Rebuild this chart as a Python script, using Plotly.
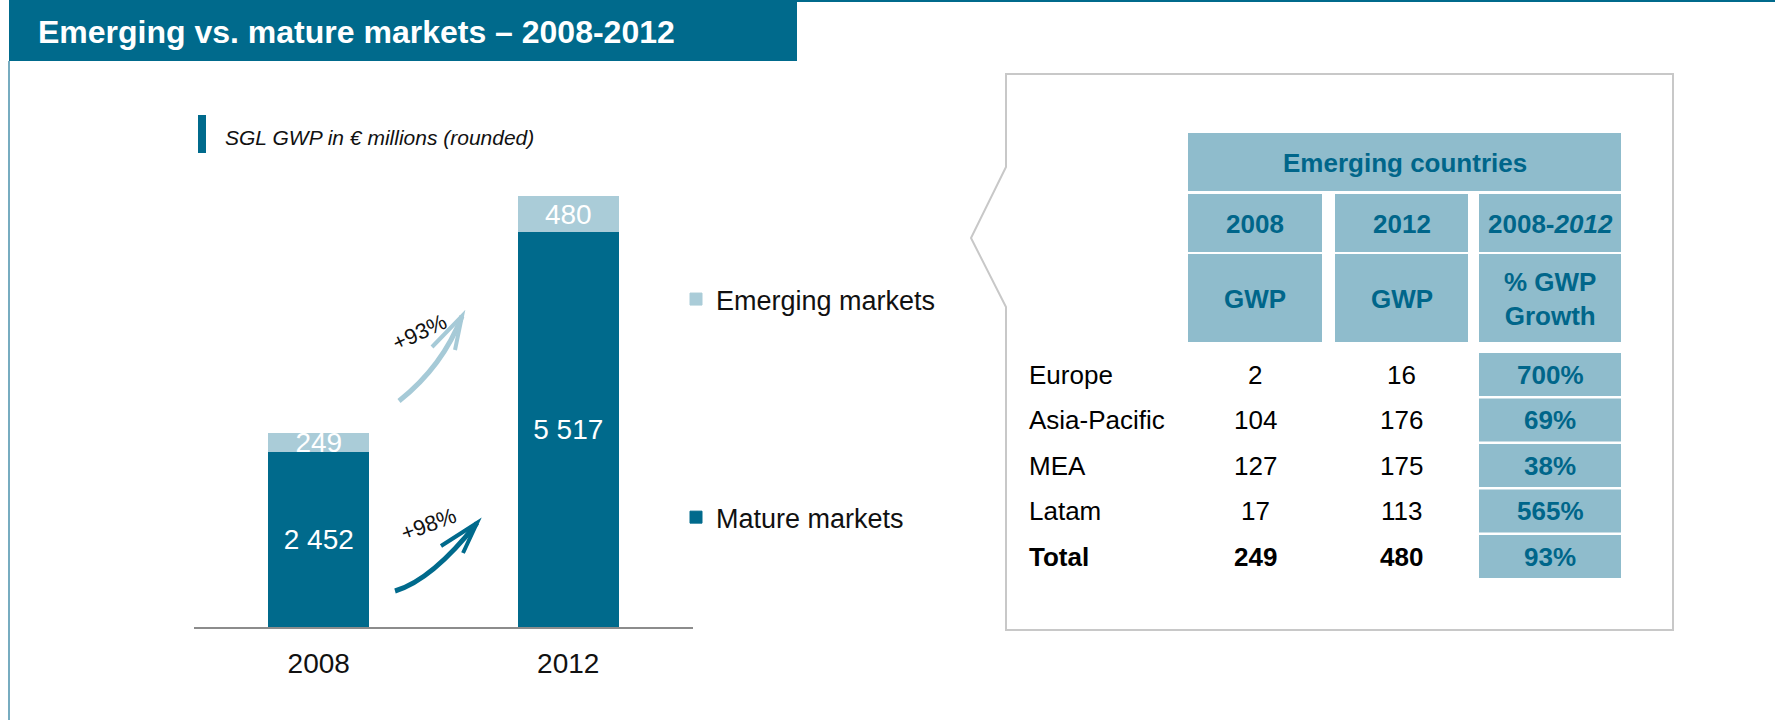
import plotly.graph_objects as go

W, H = 1775, 720

# ---------------- data ----------------
title_text = "Emerging vs. mature markets – 2008-2012"
subtitle_text = "SGL GWP in € millions (rounded)"

years = ["2008", "2012"]
mature = [2452, 5517]
emerging = [249, 480]
mature_name = "Mature markets"
emerging_name = "Emerging markets"
mature_growth_label = "+98%"
emerging_growth_label = "+93%"

table_group_header = "Emerging countries"
table_col_headers = ["2008", "2012", "2008-<i>2012</i>"]
table_sub_headers = ["GWP", "GWP", "% GWP<br>Growth"]
regions = ["Europe", "Asia-Pacific", "MEA", "Latam", "Total"]
gwp_2008 = [2, 104, 127, 17, 249]
gwp_2012 = [16, 176, 175, 113, 480]
gwp_growth = ["700%", "69%", "38%", "565%", "93%"]

# ---------------- style ----------------
DARK = "#006A8C"
LIGHT = "#AACCD8"
CELL = "#8FBCCC"
HEAD_TXT = "#00668A"
BORDER = "#C8C8C8"
AXIS = "#8C8C8C"
FONT = "Liberation Sans, Arial, sans-serif"


def px(x):
    return x / W


def py(y):
    return 1 - y / H


def P(x, y):
    return f"{px(x):.5f},{py(y):.5f}"


def fmt(v):
    return f"{v:,}".replace(",", " ")


fig = go.Figure()
fig.add_bar(
    x=years, y=mature, name=mature_name, legendgroup="m", legendrank=2,
    marker=dict(color=DARK, line=dict(color=DARK, width=1)),
    text=[fmt(v) for v in mature], textposition="inside", insidetextanchor="middle",
    textangle=0, constraintext="none", textfont=dict(size=28, color="white", family=FONT),
    width=0.4, hoverinfo="skip",
)
fig.add_bar(
    x=years, y=emerging, name=emerging_name, legendgroup="e", legendrank=1,
    marker=dict(color=LIGHT, line=dict(color=LIGHT, width=1)),
    text=[fmt(v) for v in emerging], textposition="inside", insidetextanchor="middle",
    textangle=0, constraintext="none", textfont=dict(size=28, color="white", family=FONT),
    width=0.4, hoverinfo="skip",
)

shapes = []
annotations = []

# header bar & frame lines
shapes.append(dict(type="rect", xref="paper", yref="paper", x0=px(9), x1=px(797), y0=py(0), y1=py(61),
                   fillcolor=DARK, line=dict(width=0), layer="below"))
shapes.append(dict(type="line", xref="paper", yref="paper", x0=px(797), x1=px(1775), y0=py(1), y1=py(1),
                   line=dict(color=DARK, width=2)))
shapes.append(dict(type="line", xref="paper", yref="paper", x0=px(9), x1=px(9), y0=py(61), y1=py(720),
                   line=dict(color="#4A90AB", width=1.5)))
annotations.append(dict(text=f"<b>{title_text}</b>", xref="paper", yref="paper", x=px(36), y=py(32),
                        xanchor="left", yanchor="middle", showarrow=False,
                        font=dict(size=32, color="white", family=FONT)))

# subtitle
shapes.append(dict(type="rect", xref="paper", yref="paper", x0=px(198), x1=px(206), y0=py(115), y1=py(153),
                   fillcolor=DARK, line=dict(width=0)))
annotations.append(dict(text=f"<i>{subtitle_text}</i>", xref="paper", yref="paper", x=px(223), y=py(137),
                        xanchor="left", yanchor="middle", showarrow=False,
                        font=dict(size=21, color="#111111", family=FONT)))

# growth arrows
def arrow(p0, c, p1, b1, b2, color):
    shapes.append(dict(type="path", xref="paper", yref="paper",
                       path=f"M{P(*p0)} Q{P(*c)} {P(*p1)}", line=dict(color=color, width=5)))
    shapes.append(dict(type="path", xref="paper", yref="paper",
                       path=f"M{P(*b1)} L{P(*p1)} L{P(*b2)}", line=dict(color=color, width=4)))

arrow((399, 401), (443, 366), (462, 316), (432, 347), (455, 350), "#A6CAD7")
arrow((395, 591), (432, 580), (477, 523), (441, 546), (463, 553), DARK)
annotations.append(dict(text=emerging_growth_label, xref="paper", yref="paper", x=px(419), y=py(332),
                        xanchor="center", yanchor="middle",
                        textangle=-25, showarrow=False, font=dict(size=22, color="#111111", family=FONT)))
annotations.append(dict(text=mature_growth_label, xref="paper", yref="paper", x=px(428), y=py(524),
                        xanchor="center", yanchor="middle",
                        textangle=-20, showarrow=False, font=dict(size=22, color="#111111", family=FONT)))

# callout box
box_path = (f"M{P(1006, 74)} L{P(1673, 74)} L{P(1673, 630)} L{P(1006, 630)} "
            f"L{P(1006, 307)} L{P(971, 238)} L{P(1006, 167)} Z")
shapes.append(dict(type="path", xref="paper", yref="paper", path=box_path,
                   line=dict(color=BORDER, width=2), fillcolor="rgba(0,0,0,0)"))

# table header cells
def cell(x0, y0, x1, y1):
    shapes.append(dict(type="rect", xref="paper", yref="paper", x0=px(x0), x1=px(x1), y0=py(y0), y1=py(y1),
                       fillcolor=CELL, line=dict(width=0)))

def txt(s, x, y, size=26, color="#000000", bold=False, anchor="center"):
    annotations.append(dict(text=f"<b>{s}</b>" if bold else s, xref="paper", yref="paper",
                            x=px(x), y=py(y), xanchor=anchor, yanchor="middle", showarrow=False,
                            align="center", font=dict(size=size, color=color, family=FONT)))

cols = [(1188, 1322), (1335, 1468), (1479, 1621)]
cell(1188, 133, 1621, 191)
txt(table_group_header, (1188 + 1621) / 2, 163, color=HEAD_TXT, bold=True)
for (x0, x1), h1, h2 in zip(cols, table_col_headers, table_sub_headers):
    cell(x0, 194, x1, 252)
    cell(x0, 254, x1, 342)
    txt(h1, (x0 + x1) / 2, 224, color=HEAD_TXT, bold=True)
    txt(h2, (x0 + x1) / 2, 299, color=HEAD_TXT, bold=True)

row_top = 353
row_pitch = 45.5
row_h = 43
for i, (reg, a, b, g) in enumerate(zip(regions, gwp_2008, gwp_2012, gwp_growth)):
    y0 = row_top + i * row_pitch
    yc = y0 + row_h / 2
    bold = reg == "Total"
    cell(cols[2][0], y0, cols[2][1], y0 + row_h)
    txt(reg, 1027, yc, bold=bold, anchor="left")
    txt(str(a), sum(cols[0]) / 2, yc, bold=bold)
    txt(str(b), sum(cols[1]) / 2, yc, bold=bold)
    txt(g, sum(cols[2]) / 2, yc, color=HEAD_TXT, bold=True)

fig.update_layout(
    width=W, height=H,
    margin=dict(l=0, r=0, t=0, b=0),
    paper_bgcolor="white", plot_bgcolor="rgba(0,0,0,0)",
    barmode="stack",
    font=dict(family=FONT, color="#111111"),
    showlegend=True,
    legend=dict(x=px(676), y=py(275), xanchor="left", yanchor="top",
                font=dict(size=27, color="#111111", family=FONT),
                tracegroupgap=180, traceorder="grouped",
                bgcolor="rgba(0,0,0,0)"),
    xaxis=dict(domain=[px(194), px(693)], type="category", range=[-0.5, 1.5],
               showline=True, linecolor=AXIS, linewidth=2, showgrid=False, zeroline=False,
               ticks="", ticklabelstandoff=10,
               tickfont=dict(size=28, color="#111111", family=FONT), fixedrange=True),
    yaxis=dict(domain=[py(627), py(150)], range=[0, 6650], visible=False, fixedrange=True),
    shapes=shapes,
    annotations=annotations,
)

fig.write_html("out.html", config={"displayModeBar": False},
               post_script="document.body.style.margin='0';")
